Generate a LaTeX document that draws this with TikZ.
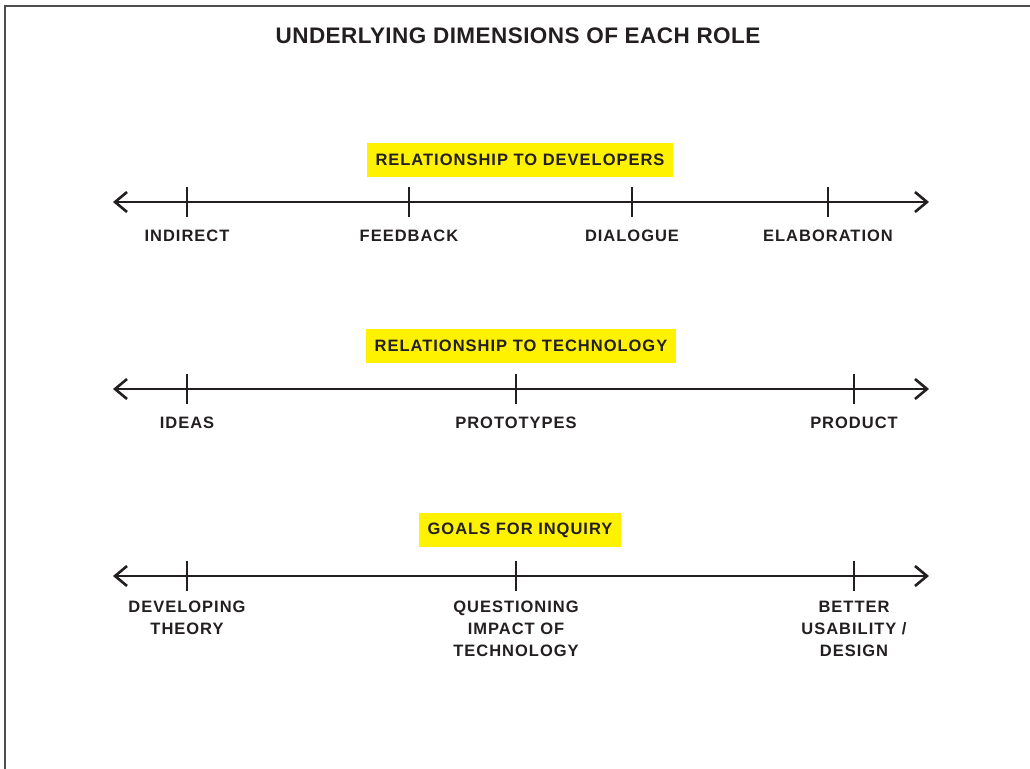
\documentclass[tikz,border=0pt]{standalone}
\usepackage{fontspec}
\setmainfont{Liberation Sans}
\newfontfamily\lsfont{Liberation Sans}[LetterSpace=6]
\newfontfamily\tlfont{Liberation Sans}[LetterSpace=2]
\usetikzlibrary{arrows.meta}
\definecolor{ink}{HTML}{231F20}
\definecolor{hl}{HTML}{FFF200}
\begin{document}
\begin{tikzpicture}[x=1pt,y=-1pt,
  axis/.style={draw=ink,line width=2.8pt,{Straight Barb[length=12pt,width=20pt,line width=2.6pt]}-{Straight Barb[length=12pt,width=20pt,line width=2.6pt]}},
  tick/.style={draw=ink,line width=2.8pt},
  lab/.style={text=ink,font=\lsfont\fontsize{16.5}{22}\selectfont\bfseries,align=center,anchor=north,inner sep=0pt},
  head/.style={fill=hl,text=ink,font=\lsfont\fontsize{16.5}{20}\selectfont\bfseries,inner xsep=9pt,minimum height=34pt},
  title/.style={text=ink,font=\tlfont\fontsize{22.5}{26}\selectfont\bfseries}]
\useasboundingbox (0,0) rectangle (1030,768);
\draw[ink!80,line width=2pt] (5,770) -- (5,6) -- (1032,6);
\node[title] (t) at (518,36) {UNDERLYING DIMENSIONS OF EACH ROLE};
% row 1
\node[head] (h1) at (520,160) {RELATIONSHIP TO DEVELOPERS};
\coordinate (l1) at (113,202); \coordinate (r1) at (929,202);
\draw[axis] (l1) -- (r1);
\foreach \x/\n/\t in {187/a/INDIRECT,409/b/FEEDBACK,632/c/DIALOGUE,828/d/ELABORATION}{
  \coordinate (t1\n) at (\x,187); \coordinate (b1\n) at (\x,217);
  \draw[tick] (t1\n) -- (b1\n);
  \node[lab] (n1\n) at (\x,229.5) {\t};
}
% row 2
\node[head] (h2) at (521,346) {RELATIONSHIP TO TECHNOLOGY};
\coordinate (l2) at (113,389); \coordinate (r2) at (929,389);
\draw[axis] (l2) -- (r2);
\foreach \x/\n/\t in {187/a/IDEAS,516/b/PROTOTYPES,854/c/PRODUCT}{
  \coordinate (t2\n) at (\x,374); \coordinate (b2\n) at (\x,404);
  \draw[tick] (t2\n) -- (b2\n);
  \node[lab] (n2\n) at (\x,416.5) {\t};
}
% row 3
\node[head] (h3) at (520,530) {GOALS FOR INQUIRY};
\coordinate (l3) at (113,576); \coordinate (r3) at (929,576);
\draw[axis] (l3) -- (r3);
\foreach \x/\n/\t in {187/a/{DEVELOPING\\THEORY},516/b/{QUESTIONING\\IMPACT OF\\TECHNOLOGY},854/c/{BETTER\\USABILITY /\\DESIGN}}{
  \coordinate (t3\n) at (\x,561); \coordinate (b3\n) at (\x,591);
  \draw[tick] (t3\n) -- (b3\n);
  \node[lab] (n3\n) at (\x,600.5) {\t};
}
\end{tikzpicture}
\end{document}
